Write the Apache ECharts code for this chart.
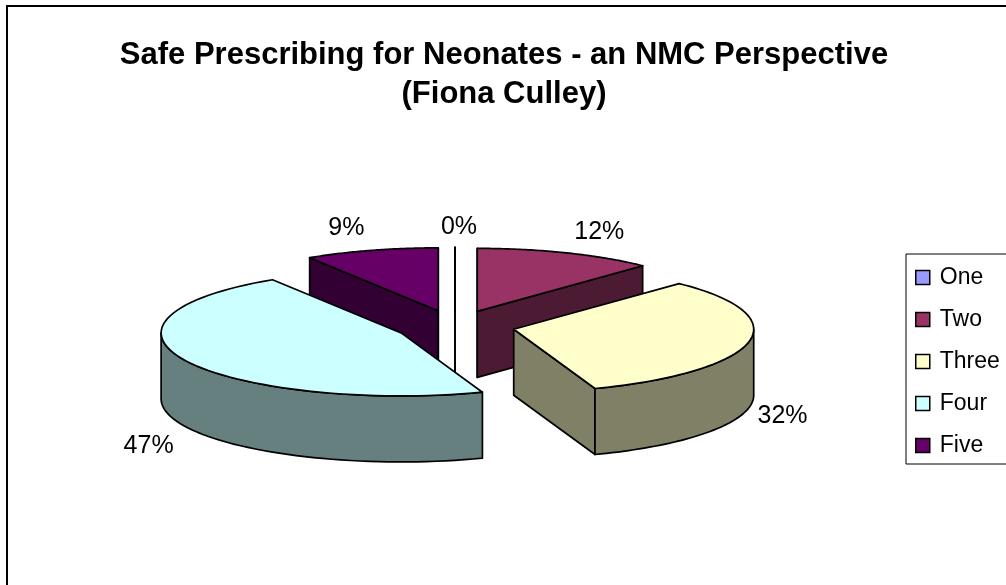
<!DOCTYPE html>
<html>
<head>
<meta charset="utf-8">
<style>
  html, body { margin: 0; padding: 0; background: #fff; }
  #chart { width: 1006px; height: 585px; }
</style>
<script src="https://cdn.jsdelivr.net/npm/echarts@6/dist/echarts.min.js"></script>
</head>
<body>
<div id="chart"></div>
<script>
// values, in percent
const categories = ['One', 'Two', 'Three', 'Four', 'Five'];
const shares = [0, 12.1, 32.4, 46.5, 9];
const colors = ['#9999ff', '#993366', '#ffffcc', '#ccffff', '#660066'];

// the flattened pie
const cx = 455, cy = 326, rx = 240, ry = 63, depth = 66, explode = 60;
// back to front
const layerOrder = [3, 1, 4, 5, 2];
// label offset from the outer edge of each slice
const labelShift = [[4, -20], [33, -21], [34, 74], [-37, 85], [-25, -22]];

const total = shares.reduce((a, b) => a + b, 0);
const eps = 1e-6;

function shade (hex) {
  const n = parseInt(hex.slice(1), 16);
  const half = s => Math.round(((n >> s) & 255) / 2);
  return 'rgb(' + half(16) + ',' + half(8) + ',' + half(0) + ')';
}

function renderSlice (idx) {
  return function (params, api) {
    let before = 0;
    for (let i = 0; i < idx; i++) before += shares[i];
    const a0 = before / total * Math.PI * 2;
    const a1 = a0 + api.value(0) / total * Math.PI * 2;
    const mid = (a0 + a1) / 2;
    const ox = cx + explode * Math.sin(mid);
    const oy = cy - explode * (ry / rx) * Math.cos(mid);
    const at = (a, drop) => [ox + rx * Math.sin(a), oy - ry * Math.cos(a) + (drop || 0)];
    const style = { stroke: '#000', lineWidth: 1.7, lineJoin: 'round' };
    const top = colors[idx], side = shade(colors[idx]);
    const children = [];
    const face = (pts, fill) => children.push({ type: 'polygon', shape: { points: pts }, style: Object.assign({ fill: fill }, style) });
    const apex = [ox, oy], apexLow = [ox, oy + depth];

    // flat cut faces turned to the viewer
    if (Math.sin(a0) <= eps) face([apex, at(a0), at(a0, depth), apexLow], side);
    if (Math.sin(a1) >= -eps) face([apex, at(a1), at(a1, depth), apexLow], side);

    // rim, only the near half of the ellipse
    const from = Math.max(a0, Math.PI / 2), to = Math.min(a1, Math.PI * 1.5);
    if (to > from) {
      const upper = [], lower = [];
      for (let i = 0; i <= 48; i++) {
        const a = from + (to - from) * i / 48;
        upper.push(at(a));
        lower.unshift(at(a, depth));
      }
      face(upper.concat(lower), side);
    }

    // top
    const pts = [apex];
    for (let i = 0; i <= 64; i++) pts.push(at(a0 + (a1 - a0) * i / 64));
    face(pts, top);

    const edge = at(mid);
    children.push({
      type: 'text',
      style: {
        x: edge[0] + labelShift[idx][0],
        y: edge[1] + labelShift[idx][1],
        text: Math.round(api.value(0) / total * 100) + '%',
        fill: '#000',
        font: '25px "Liberation Sans"',
        align: 'center',
        verticalAlign: 'middle'
      }
    });
    return { type: 'group', children: children };
  };
}

const chart = echarts.init(document.getElementById('chart'));
chart.setOption({
  animation: false,
  backgroundColor: '#fff',
  title: {
    text: 'Safe Prescribing for Neonates - an NMC Perspective\n(Fiona Culley)',
    left: 499,
    top: 31,
    textAlign: 'center',
    textStyle: { fontFamily: 'Liberation Sans', fontSize: 31, fontWeight: 'bold', color: '#000', lineHeight: 39 }
  },
  legend: {
    orient: 'vertical',
    left: 906,
    top: 254,
    data: categories,
    padding: [12, 20, 7, 9],
    itemGap: 19,
    itemWidth: 14,
    itemHeight: 14,
    borderColor: '#000',
    borderWidth: 1,
    borderRadius: 0,
    selectedMode: false,
    icon: 'rect',
    itemStyle: { borderColor: '#000', borderWidth: 1.5 },
    textStyle: { fontFamily: 'Liberation Sans', fontSize: 23, color: '#000', padding: [0, 0, 0, 5] }
  },
  graphic: [{
    type: 'rect',
    silent: true,
    z: -1,
    shape: { x: 7, y: 6, width: 1100, height: 700 },
    style: { fill: 'none', stroke: '#000', lineWidth: 2 }
  }],
  series: categories.map((name, i) => ({
    type: 'custom',
    name: name,
    coordinateSystem: 'none',
    z: layerOrder[i],
    itemStyle: { color: colors[i] },
    renderItem: renderSlice(i),
    data: [[shares[i]]]
  }))
});
</script>
</body>
</html>
